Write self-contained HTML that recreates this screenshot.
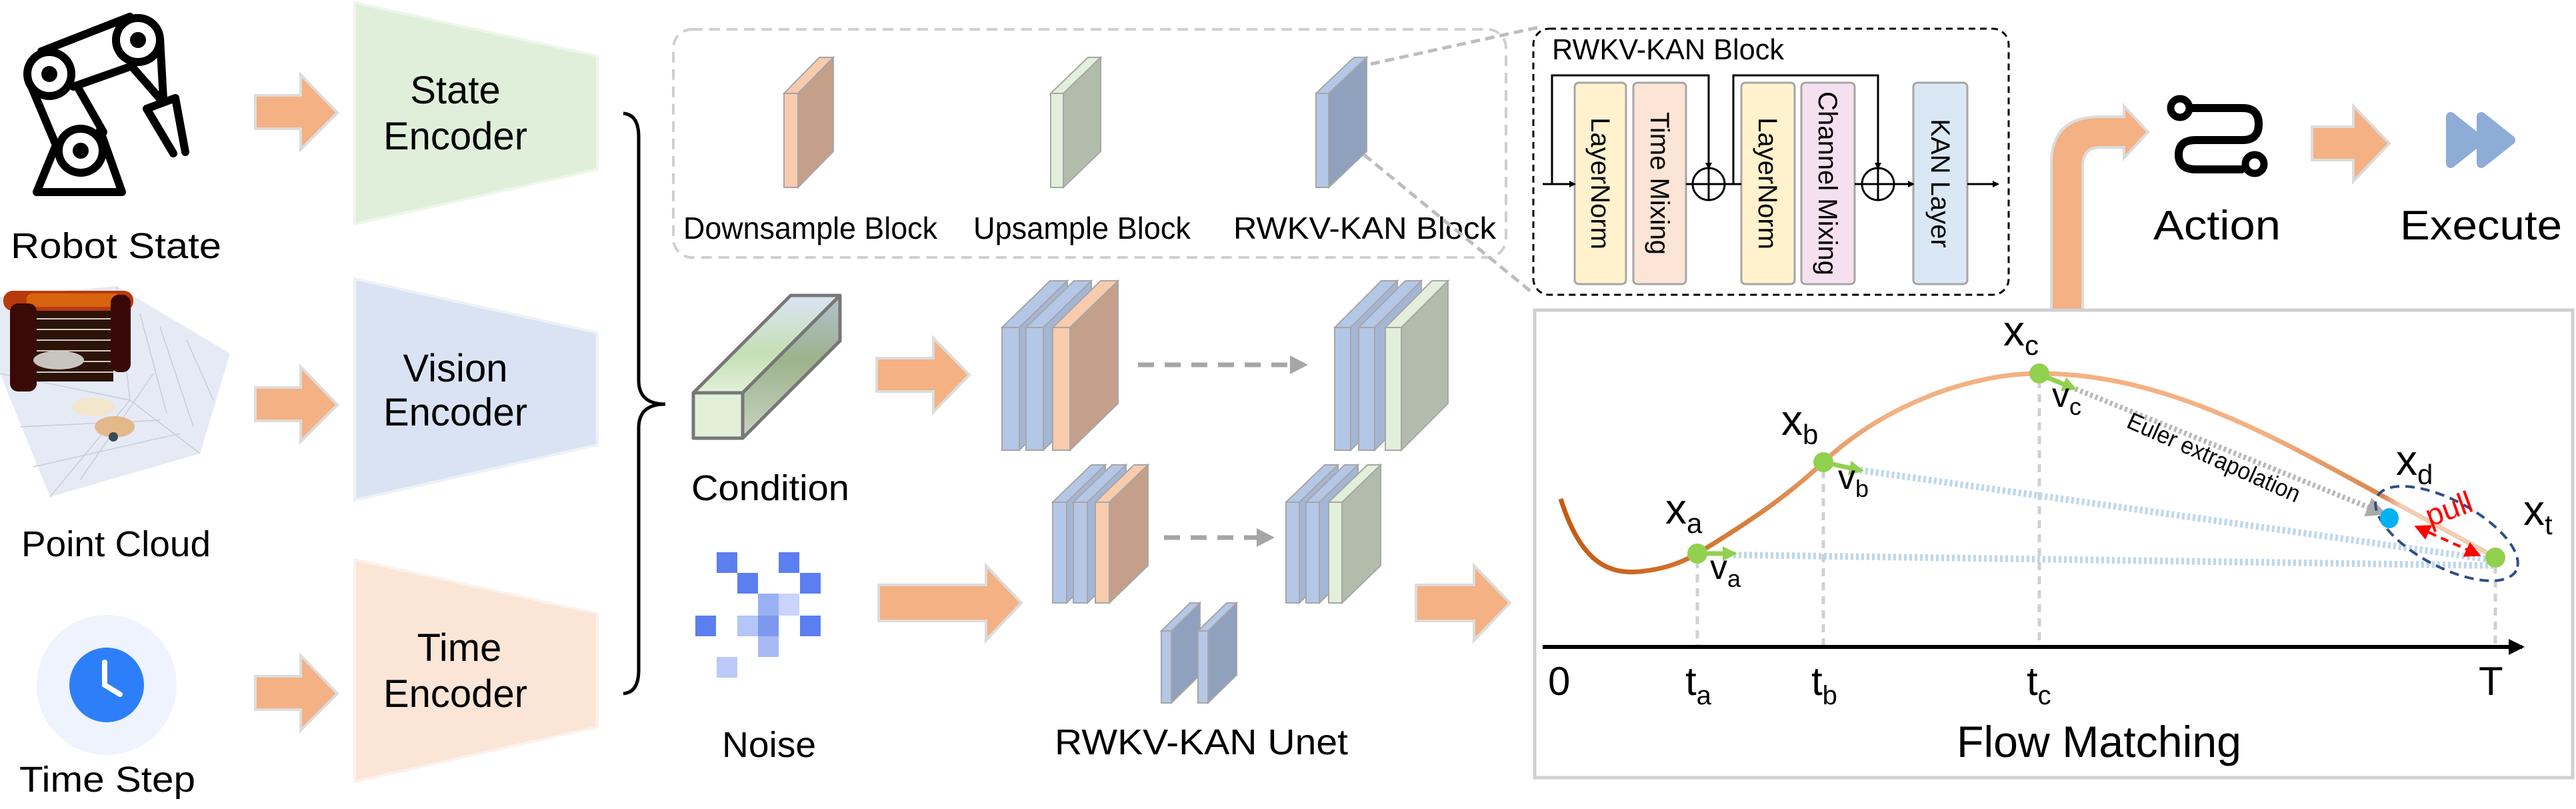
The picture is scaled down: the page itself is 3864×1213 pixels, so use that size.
<!DOCTYPE html>
<html><head><meta charset="utf-8">
<style>
html,body{margin:0;padding:0;background:#fff;}
svg{display:block;}
text{font-family:"Liberation Sans",sans-serif;fill:#000;}
</style></head>
<body>
<svg width="3864" height="1213" viewBox="0 0 3864 1213" xmlns="http://www.w3.org/2000/svg">
<defs>
<linearGradient id="curveG" x1="2341" y1="0" x2="3742" y2="0" gradientUnits="userSpaceOnUse">
<stop offset="0" stop-color="#c55a11"/><stop offset="0.2" stop-color="#d77f3c"/><stop offset="0.35" stop-color="#f4b183"/><stop offset="0.75" stop-color="#f4b183"/><stop offset="0.88" stop-color="#d9874d"/><stop offset="0.9" stop-color="#f2cdb2"/><stop offset="1" stop-color="#f2cdb2"/>
</linearGradient>
<linearGradient id="condTop" x1="0" y1="443" x2="0" y2="589" gradientUnits="userSpaceOnUse">
<stop offset="0" stop-color="#dae3f3"/><stop offset="0.6" stop-color="#c5e0b4"/><stop offset="1" stop-color="#e2f0d9"/></linearGradient>
<linearGradient id="condSide" x1="0" y1="443" x2="0" y2="657" gradientUnits="userSpaceOnUse">
<stop offset="0" stop-color="#b4c0d0"/><stop offset="0.45" stop-color="#9cb38c"/><stop offset="1" stop-color="#c8d4c0"/></linearGradient>
<marker id="ab" markerWidth="10" markerHeight="10" refX="8" refY="5" orient="auto" markerUnits="userSpaceOnUse"><path d="M0,0 L10,5 L0,10 z" fill="#000"/></marker>
<marker id="ab2" markerWidth="24" markerHeight="24" refX="20" refY="12" orient="auto" markerUnits="userSpaceOnUse"><path d="M0,0 L24,12 L0,24 z" fill="#000"/></marker>
<marker id="ag" markerWidth="30" markerHeight="30" refX="26" refY="15" orient="auto" markerUnits="userSpaceOnUse"><path d="M0,0 L30,15 L0,30 z" fill="#aaa"/></marker>
<marker id="agr" markerWidth="22" markerHeight="22" refX="16" refY="11" orient="auto" markerUnits="userSpaceOnUse"><path d="M0,0 L22,11 L0,22 z" fill="#92d050"/></marker>
<marker id="ar" markerWidth="24" markerHeight="24" refX="20" refY="12" orient="auto-start-reverse" markerUnits="userSpaceOnUse"><path d="M0,0 L24,12 L0,24 z" fill="#f00"/></marker>
<pattern id="rows" width="12" height="16" patternUnits="userSpaceOnUse"><rect width="12" height="16" fill="#2b1308"/><rect y="13" width="12" height="2" fill="#d8ccc4"/></pattern>
</defs>

<!-- Robot icon -->
<g fill="none" stroke="#000" stroke-width="12" stroke-linejoin="round" stroke-linecap="round">
<path d="M55,288 L183,288 L150,195 M55,288 L85,215"/>
<path d="M45,125 L85,220 M115,128 L155,198"/>
<path d="M62,77 L195,25 M110,130 L195,100"/>
<path d="M198,100 L240,148 M240,58 L245,148"/>
<path d="M220,163 L263,147 L278,228 M220,163 L260,230"/>
<circle cx="74" cy="111" r="33" fill="#fff"/>
<circle cx="207" cy="60" r="33" fill="#fff"/>
<circle cx="121" cy="226" r="33" fill="#fff"/>
</g>
<circle cx="74" cy="111" r="12" fill="#000"/><circle cx="207" cy="60" r="12" fill="#000"/><circle cx="121" cy="226" r="12" fill="#000"/>
<text x="16" y="387" font-size="54" textLength="316" lengthAdjust="spacingAndGlyphs">Robot State</text>

<!-- Point cloud -->
<polygon points="0,445 175,429 345,530 300,680 75,745 0,560" fill="#e5eaf5"/>
<g stroke="#c8ccd6" stroke-width="1.5" fill="none">
<path d="M175,429 L195,600 L300,680 M195,600 L75,745 M0,560 L195,600 M30,640 L240,630 M50,700 L270,650 M120,720 L230,560 M210,470 L250,620 M240,490 L290,640 M280,510 L320,600"/>
</g>
<rect x="45" y="465" width="125" height="107" fill="url(#rows)"/>
<rect x="5" y="436" width="195" height="30" rx="14" fill="#b83a0c"/>
<rect x="40" y="440" width="140" height="20" rx="8" fill="#d86410"/>
<rect x="15" y="455" width="40" height="132" rx="12" fill="#3a0a08"/>
<rect x="166" y="442" width="30" height="116" rx="12" fill="#3a0808"/>
<ellipse cx="88" cy="540" rx="38" ry="14" fill="#c8c4c0"/>
<ellipse cx="140" cy="610" rx="32" ry="14" fill="#f2e6cc"/>
<ellipse cx="172" cy="640" rx="30" ry="16" fill="#e3b98a"/>
<circle cx="170" cy="655" r="7" fill="#3a4a5a"/>
<text x="32" y="834" font-size="54" textLength="284" lengthAdjust="spacingAndGlyphs">Point Cloud</text>

<!-- Clock -->
<circle cx="160" cy="1027" r="105" fill="#eef3fd"/>
<circle cx="160" cy="1027" r="56" fill="#2d7ff9"/>
<path d="M157,993 L157,1027 L180,1041" fill="none" stroke="#fff" stroke-width="8" stroke-linecap="round"/>
<text x="29" y="1187" font-size="54" textLength="264" lengthAdjust="spacingAndGlyphs">Time Step</text>

<!-- Arrows -->
<g fill="#f4b183" stroke="#dcdcdc" stroke-width="4">
<polygon points="383,143 451,143 451,112 506,169 451,224 451,193 383,193"/>
<polygon points="383,581 451,581 451,550 506,607 451,662 451,631 383,631"/>
<polygon points="383,1014 451,1014 451,983 506,1040 451,1095 451,1064 383,1064"/>
<polygon points="1315,537 1400,537 1400,507 1454,562 1400,618 1400,587 1315,587"/>
<polygon points="1318,877 1479,877 1479,848 1532,904 1479,960 1479,931 1318,931"/>
<polygon points="2124,877 2211,877 2211,848 2265,904 2211,960 2211,931 2124,931"/>
<polygon points="3468,190 3530,190 3530,159 3584,215 3530,272 3530,240 3468,240"/>
<path d="M3077,465 L3077,245 Q3077,175 3150,175 L3186,175 L3186,159 L3222,198 L3186,237 L3186,221 L3150,221 Q3124,221 3124,250 L3124,465 Z"/>
</g>

<!-- Encoders -->
<polygon points="532,4 896,84 896,254 532,336" fill="#e0efd9" stroke="#eef6ea" stroke-width="4"/>
<polygon points="532,418 896,499 896,667 532,750" fill="#dae3f3" stroke="#eef1f9" stroke-width="4"/>
<polygon points="532,839 896,920 896,1090 532,1172" fill="#fbe5d6" stroke="#fdf1ea" stroke-width="4"/>
<g font-size="58" text-anchor="middle">
<text x="683" y="155">State</text><text x="683" y="224">Encoder</text>
<text x="683" y="572">Vision</text><text x="683" y="638">Encoder</text>
<text x="689" y="991">Time</text><text x="683" y="1060">Encoder</text>
</g>
<path d="M935,170 Q958,172 958,205 L958,570 Q958,606 998,606 Q958,606 958,642 L958,1005 Q958,1038 935,1040" fill="none" stroke="#000" stroke-width="5"/>

<!-- Legend dashed box -->
<rect x="1010" y="44" width="1249" height="342" rx="28" fill="none" stroke="#cfcfcf" stroke-width="4" stroke-dasharray="16,10"/>
<g stroke="#a6a6a6" stroke-width="2">
<rect x="1176" y="140" width="21" height="141" fill="#f8cbad"/>
<polygon points="1197,140 1250,86 1250,227 1197,281" fill="#c4a08a"/>
<polygon points="1176,140 1229,86 1250,86 1197,140" fill="#f8cbad"/>
<rect x="1576" y="140" width="19" height="141" fill="#e2efda"/>
<polygon points="1595,140 1651,86 1651,227 1595,281" fill="#b2bcaa"/>
<polygon points="1576,140 1632,86 1651,86 1595,140" fill="#e2efda"/>
<rect x="1974" y="140" width="19" height="141" fill="#b4c7e7"/>
<polygon points="1993,140 2050,86 2050,227 1993,281" fill="#90a1bd"/>
<polygon points="1974,140 2031,86 2050,86 1993,140" fill="#b4c7e7"/>
</g>
<g font-size="46">
<text x="1025" y="358" textLength="381" lengthAdjust="spacingAndGlyphs">Downsample Block</text>
<text x="1460" y="358" textLength="326" lengthAdjust="spacingAndGlyphs">Upsample Block</text>
<text x="1850" y="358" textLength="394" lengthAdjust="spacingAndGlyphs">RWKV-KAN  Block</text>
</g>
<path d="M2056,96 L2312,40 M2046,232 L2300,440" stroke="#bdbdbd" stroke-width="5" stroke-dasharray="14,8" fill="none"/>

<!-- Condition -->
<g stroke="#777" stroke-width="5" stroke-linejoin="round">
<polygon points="1040,589 1186,443 1260,443 1114,589" fill="url(#condTop)"/>
<polygon points="1114,589 1260,443 1260,511 1114,657" fill="url(#condSide)"/>
<rect x="1040" y="589" width="74" height="68" fill="#e2f0d9"/>
</g>
<text x="1037" y="750" font-size="54" textLength="237" lengthAdjust="spacingAndGlyphs">Condition</text>

<!-- Unet stacks -->
<g stroke="#a6a6a6" stroke-width="2">
<rect x="1503" y="491" width="26" height="184" fill="#b4c7e7"/><polygon points="1529,491 1601,421 1601,605 1529,675" fill="#a3b6d6"/><polygon points="1503,491 1575,421 1601,421 1529,491" fill="#b4c7e7"/>
<rect x="1539" y="491" width="26" height="184" fill="#b4c7e7"/><polygon points="1565,491 1637,421 1637,605 1565,675" fill="#a3b6d6"/><polygon points="1539,491 1611,421 1637,421 1565,491" fill="#b4c7e7"/>
<rect x="1579" y="491" width="26" height="184" fill="#f8cbad"/><polygon points="1605,491 1677,421 1677,605 1605,675" fill="#c4a08a"/><polygon points="1579,491 1651,421 1677,421 1605,491" fill="#f8cbad"/>

<rect x="2002" y="491" width="24" height="184" fill="#b4c7e7"/><polygon points="2026,491 2096,421 2096,605 2026,675" fill="#a3b6d6"/><polygon points="2002,491 2072,421 2096,421 2026,491" fill="#b4c7e7"/>
<rect x="2038" y="491" width="24" height="184" fill="#b4c7e7"/><polygon points="2062,491 2132,421 2132,605 2062,675" fill="#a3b6d6"/><polygon points="2038,491 2108,421 2132,421 2062,491" fill="#b4c7e7"/>
<rect x="2078" y="491" width="24" height="184" fill="#e2efda"/><polygon points="2102,491 2172,421 2172,605 2102,675" fill="#b2bcaa"/><polygon points="2078,491 2148,421 2172,421 2102,491" fill="#e2efda"/>

<rect x="1579" y="753" width="21" height="151" fill="#b4c7e7"/><polygon points="1600,753 1658,697 1658,848 1600,904" fill="#a3b6d6"/><polygon points="1579,753 1637,697 1658,697 1600,753" fill="#b4c7e7"/>
<rect x="1610" y="753" width="21" height="151" fill="#b4c7e7"/><polygon points="1631,753 1689,697 1689,848 1631,904" fill="#a3b6d6"/><polygon points="1610,753 1668,697 1689,697 1631,753" fill="#b4c7e7"/>
<rect x="1643" y="753" width="21" height="151" fill="#f8cbad"/><polygon points="1664,753 1722,697 1722,848 1664,904" fill="#c4a08a"/><polygon points="1643,753 1701,697 1722,697 1664,753" fill="#f8cbad"/>

<rect x="1929" y="753" width="20" height="151" fill="#b4c7e7"/><polygon points="1949,753 2007,697 2007,848 1949,904" fill="#a3b6d6"/><polygon points="1929,753 1987,697 2007,697 1949,753" fill="#b4c7e7"/>
<rect x="1959" y="753" width="20" height="151" fill="#b4c7e7"/><polygon points="1979,753 2037,697 2037,848 1979,904" fill="#a3b6d6"/><polygon points="1959,753 2017,697 2037,697 1979,753" fill="#b4c7e7"/>
<rect x="1993" y="753" width="20" height="151" fill="#e2efda"/><polygon points="2013,753 2071,697 2071,848 2013,904" fill="#b2bcaa"/><polygon points="1993,753 2051,697 2071,697 2013,753" fill="#e2efda"/>

<rect x="1742" y="946" width="15" height="108" fill="#b4c7e7"/><polygon points="1757,946 1800,904 1800,1012 1757,1054" fill="#90a1bd"/><polygon points="1742,946 1785,904 1800,904 1757,946" fill="#b4c7e7"/>
<rect x="1797" y="946" width="15" height="108" fill="#b4c7e7"/><polygon points="1812,946 1855,904 1855,1012 1812,1054" fill="#90a1bd"/><polygon points="1797,946 1840,904 1855,904 1812,946" fill="#b4c7e7"/>
</g>
<g stroke="#a6a6a6" stroke-width="7" stroke-dasharray="24,16">
<line x1="1707" y1="547" x2="1935" y2="547"/>
<line x1="1746" y1="806" x2="1885" y2="806"/>
</g>
<polygon points="1935,533 1962,547 1935,561" fill="#a6a6a6"/>
<polygon points="1885,792 1912,806 1885,820" fill="#a6a6a6"/>
<text x="1582" y="1131" font-size="54" textLength="440" lengthAdjust="spacingAndGlyphs">RWKV-KAN Unet</text>

<!-- Noise -->
<g>
<rect x="1075" y="828" width="31" height="31" fill="#5b7ff0"/>
<rect x="1168" y="828" width="31" height="31" fill="#5b7ff0"/>
<rect x="1106" y="859" width="31" height="31" fill="#5b7ff0"/>
<rect x="1200" y="859" width="31" height="31" fill="#5b7ff0"/>
<rect x="1137" y="890" width="31" height="33" fill="#9ab0f5"/>
<rect x="1168" y="890" width="31" height="33" fill="#c8d4fa"/>
<rect x="1043" y="923" width="31" height="31" fill="#5b7ff0"/>
<rect x="1106" y="923" width="31" height="31" fill="#b4c5f8"/>
<rect x="1137" y="923" width="31" height="31" fill="#7d98ee"/>
<rect x="1200" y="923" width="31" height="31" fill="#5b7ff0"/>
<rect x="1137" y="954" width="31" height="31" fill="#a8b9f5"/>
<rect x="1075" y="985" width="31" height="31" fill="#bccaf9"/>
</g>
<text x="1083" y="1135" font-size="54" textLength="141" lengthAdjust="spacingAndGlyphs">Noise</text>

<!-- RWKV-KAN Block detail -->
<rect x="2300" y="43" width="713" height="399" rx="24" fill="#fff" stroke="#000" stroke-width="3" stroke-dasharray="10,7"/>
<text x="2328" y="89" font-size="44" textLength="348" lengthAdjust="spacingAndGlyphs">RWKV-KAN Block</text>
<g stroke="#a6a6a6" stroke-width="3">
<rect x="2362" y="124" width="77" height="302" rx="6" fill="#fff2cc"/>
<rect x="2450" y="124" width="79" height="302" rx="6" fill="#fce4d6"/>
<rect x="2612" y="124" width="80" height="302" rx="6" fill="#fff2cc"/>
<rect x="2702" y="124" width="80" height="302" rx="6" fill="#f5e0ef"/>
<rect x="2870" y="124" width="81" height="302" rx="6" fill="#dae8f5"/>
</g>
<g font-size="40" text-anchor="middle">
<text transform="translate(2387,275) rotate(90)">LayerNorm</text>
<text transform="translate(2476,275) rotate(90)">Time Mixing</text>
<text transform="translate(2638,275) rotate(90)">LayerNorm</text>
<text transform="translate(2728,275) rotate(90)">Channel Mixing</text>
<text transform="translate(2897,275) rotate(90)">KAN Layer</text>
</g>
<g stroke="#000" stroke-width="3" fill="none">
<line x1="2314" y1="276" x2="2362" y2="276" marker-end="url(#ab)"/>
<path d="M2328,276 L2328,113 L2563,113 L2563,252" marker-end="url(#ab)"/>
<line x1="2529" y1="276" x2="2539" y2="276"/>
<line x1="2587" y1="276" x2="2612" y2="276"/>
<path d="M2600,276 L2600,113 L2817,113 L2817,252" marker-end="url(#ab)"/>
<line x1="2782" y1="276" x2="2793" y2="276"/>
<line x1="2841" y1="276" x2="2870" y2="276" marker-end="url(#ab)"/>
<line x1="2951" y1="276" x2="2997" y2="276" marker-end="url(#ab)"/>
<circle cx="2563" cy="276" r="24" fill="#fff"/>
<circle cx="2817" cy="276" r="24" fill="#fff"/>
<path d="M2539,276 L2587,276 M2563,252 L2563,300 M2793,276 L2841,276 M2817,252 L2817,300"/>
</g>

<!-- Action / Execute -->
<g fill="none" stroke="#000" stroke-width="12" stroke-linecap="round">
<path d="M3290,162 L3364,162 Q3388,162 3388,186 Q3388,210 3364,210 L3294,210 Q3268,210 3268,232 Q3268,254 3294,254 L3362,254"/>
</g>
<circle cx="3270" cy="162" r="14" fill="#fff" stroke="#000" stroke-width="11"/>
<circle cx="3382" cy="246" r="14" fill="#fff" stroke="#000" stroke-width="11"/>
<text x="3230" y="359" font-size="62" textLength="191" lengthAdjust="spacingAndGlyphs">Action</text>
<g fill="#8eadd6" stroke="#8eadd6" stroke-width="14" stroke-linejoin="round">
<polygon points="3676,175 3720,210 3676,245"/>
<polygon points="3722,175 3766,210 3722,245"/>
</g>
<text x="3600" y="359" font-size="62" textLength="243" lengthAdjust="spacingAndGlyphs">Execute</text>

<!-- Flow matching box -->
<rect x="2302" y="465" width="1557" height="701" fill="#fff" stroke="#d0d0d0" stroke-width="5"/>
<g stroke="#d0d0d0" stroke-width="5" stroke-dasharray="12,9">
<line x1="2546" y1="840" x2="2546" y2="968"/>
<line x1="2735" y1="705" x2="2735" y2="968"/>
<line x1="3059" y1="570" x2="3059" y2="968"/>
<line x1="3743" y1="848" x2="3743" y2="968"/>
</g>
<line x1="2314" y1="970" x2="3783" y2="970" stroke="#000" stroke-width="6" marker-end="url(#ab2)"/>
<path d="M2341,748 C2370,840 2410,862 2460,857 C2500,853 2525,842 2546,830 C2620,785 2680,745 2735,693 C2820,612 2950,560 3059,560 C3250,560 3420,660 3580,747 L3742,835" fill="none" stroke="url(#curveG)" stroke-width="7"/>
<g stroke="#bdd7ee" stroke-width="10" stroke-dasharray="4,4" fill="none">
<line x1="2600" y1="832" x2="3742" y2="848"/>
<line x1="2790" y1="705" x2="3742" y2="840"/>
</g>
<line x1="3113" y1="583" x2="3576" y2="770" stroke="#b8b8b8" stroke-width="8" stroke-dasharray="4,4" marker-end="url(#ag)"/>
<ellipse cx="3670" cy="800" rx="118" ry="50" transform="rotate(28 3670 800)" fill="none" stroke="#2f4f86" stroke-width="4" stroke-dasharray="14,9"/>
<line x1="3625" y1="790" x2="3718" y2="832" stroke="#f00" stroke-width="4" stroke-dasharray="12,8" marker-start="url(#ar)" marker-end="url(#ar)"/>
<g stroke="#92d050" stroke-width="7">
<line x1="2546" y1="830" x2="2600" y2="830" marker-end="url(#agr)"/>
<line x1="2735" y1="693" x2="2790" y2="705" marker-end="url(#agr)"/>
<line x1="3059" y1="561" x2="3110" y2="582" marker-end="url(#agr)"/>
</g>
<g fill="#92d050">
<ellipse cx="2546" cy="830" rx="15" ry="15"/>
<ellipse cx="2735" cy="693" rx="15" ry="15"/>
<ellipse cx="3059" cy="560" rx="15" ry="15"/>
<ellipse cx="3743" cy="836" rx="15" ry="15"/>
</g>
<ellipse cx="3584" cy="777" rx="14" ry="15" fill="#00b0f0"/>
<g font-size="64">
<text x="2498" y="785">x<tspan font-size="42" dy="14">a</tspan></text>
<text x="2672" y="652">x<tspan font-size="42" dy="14">b</tspan></text>
<text x="3005" y="518">x<tspan font-size="42" dy="14">c</tspan></text>
<text x="3594" y="712">x<tspan font-size="42" dy="14">d</tspan></text>
<text x="3785" y="787">x<tspan font-size="42" dy="14">t</tspan></text>
</g>
<g font-size="52">
<text x="2565" y="868">v<tspan font-size="36" dy="12">a</tspan></text>
<text x="2757" y="733">v<tspan font-size="36" dy="12">b</tspan></text>
<text x="3078" y="610">v<tspan font-size="36" dy="12">c</tspan></text>
</g>
<text transform="translate(3188,640) rotate(24)" font-size="36" textLength="280" lengthAdjust="spacingAndGlyphs">Euler extrapolation</text>
<text transform="translate(3645,790) rotate(-20)" font-size="46" style="fill:#f00">pull</text>
<g font-size="60">
<text x="2322" y="1042">0</text>
<text x="2528" y="1042">t<tspan font-size="40" dy="14">a</tspan></text>
<text x="2717" y="1042">t<tspan font-size="40" dy="14">b</tspan></text>
<text x="3040" y="1042">t<tspan font-size="40" dy="14">c</tspan></text>
<text x="3718" y="1042">T</text>
</g>
<text x="2935" y="1135" font-size="66" textLength="427" lengthAdjust="spacingAndGlyphs">Flow Matching</text>
</svg>
</body></html>
